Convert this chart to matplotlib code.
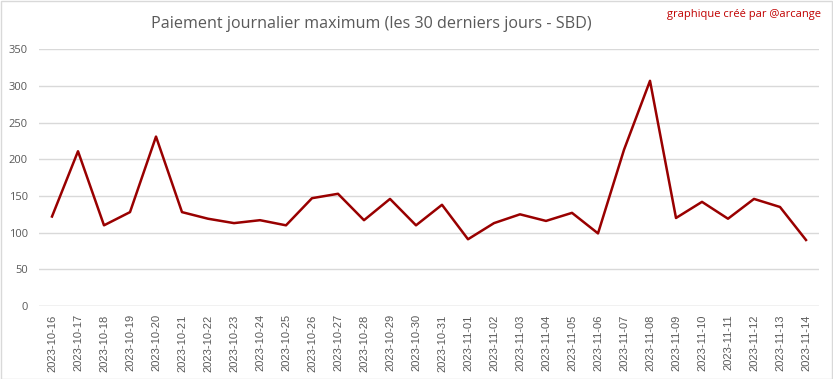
import matplotlib.pyplot as plt
from matplotlib.patches import Rectangle

dates = ['2023-10-16', '2023-10-17', '2023-10-18', '2023-10-19', '2023-10-20',
         '2023-10-21', '2023-10-22', '2023-10-23', '2023-10-24', '2023-10-25',
         '2023-10-26', '2023-10-27', '2023-10-28', '2023-10-29', '2023-10-30',
         '2023-10-31', '2023-11-01', '2023-11-02', '2023-11-03', '2023-11-04',
         '2023-11-05', '2023-11-06', '2023-11-07', '2023-11-08', '2023-11-09',
         '2023-11-10', '2023-11-11', '2023-11-12', '2023-11-13', '2023-11-14']
payout = [122, 211, 110, 128, 231, 128, 119, 113, 117, 110,
          147, 153, 117, 146, 110, 138, 91, 113, 125, 116,
          127, 99, 213, 307, 120, 142, 119, 146, 135, 90]
yticks = [0, 50, 100, 150, 200, 250, 300, 350]

plt.rcParams['font.family'] = ['Open Sans', 'DejaVu Sans']
gray = '#595959'

fig = plt.figure(figsize=(8.33, 3.79), dpi=100)
ax = fig.add_axes([39 / 833, 1 - 306 / 379, 780 / 833, (306 - 49.3) / 379])

x = range(len(dates))
ax.plot(x, payout, color='#990000', linewidth=1.8)

ax.set_xlim(-0.5, len(dates) - 0.5)
ax.set_ylim(0, 350)
ax.set_yticks(yticks)
ax.set_xticks(list(x))
ax.set_xticklabels(dates, rotation=90, fontsize=8, color=gray,
                   family=['Liberation Sans', 'DejaVu Sans'])
ax.tick_params(axis='y', labelsize=8, labelcolor=gray, length=0, pad=8)
ax.tick_params(axis='x', length=0, pad=6)
ax.grid(axis='y', color='#D9D9D9', linewidth=1)
ax.set_axisbelow(True)
for s in ax.spines.values():
    s.set_visible(False)
ax.axhline(0, color='#D9D9D9', linewidth=1)

fig.text(371 / 833, 1 - 24 / 379, 'Paiement journalier maximum (les 30 derniers jours - SBD)',
         ha='center', va='center', fontsize=11.6, color=gray)
fig.text(821 / 833, 1 - 14 / 379, 'graphique créé par @arcange',
         ha='right', va='center', fontsize=8, color='#C00000')

fig.patches.append(Rectangle((0.5 / 833, 0.5 / 379), 1 - 1.5 / 833, 1 - 1.5 / 379,
                             transform=fig.transFigure, fill=False,
                             edgecolor='#D9D9D9', linewidth=1))

fig.savefig('out.png', dpi=100)
